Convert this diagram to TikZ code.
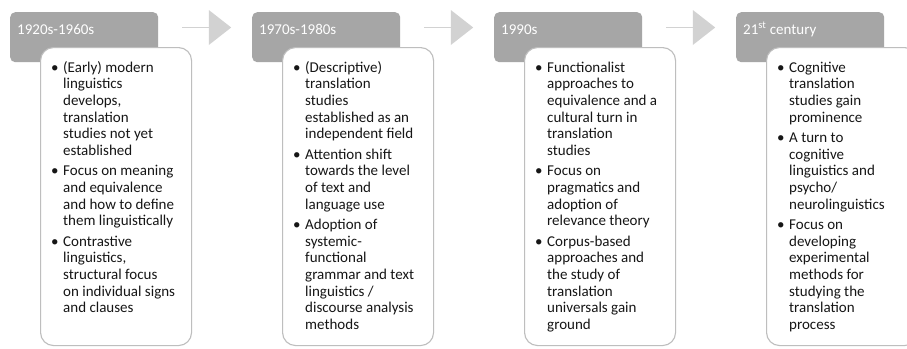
\documentclass[tikz,border=0pt]{standalone}
\usepackage{fontspec}
\setmainfont{Carlito}
\usetikzlibrary{shapes.arrows}

\definecolor{hdrgray}{HTML}{A6A6A6}
\definecolor{arrowgray}{HTML}{D2D2D2}
\definecolor{cardline}{HTML}{BEBEBE}
\definecolor{bodytext}{HTML}{161616}

% hanging bullet at the start of a list entry (the strut fixes the line height)
\newcommand\tlbul{\strut\llap{\textbullet\hspace{4.5pt}}}

\begin{document}
\begin{tikzpicture}[x=1pt,y=-1pt,
  hdr/.style={fill=hdrgray, rounded corners=5pt, anchor=north west,
    minimum width=148pt, minimum height=50pt, inner sep=0},
  hdrtext/.style={anchor=base west, inner sep=0, text=white,
    font=\fontsize{15}{18}\selectfont},
  card/.style={fill=white, draw=cardline, line width=1.1pt,
    rounded corners=13pt, anchor=north west,
    minimum width=151pt, minimum height=298pt, inner sep=0},
  body/.style={anchor=north west, align=left, inner sep=0, text=bodytext,
    font=\fontsize{15}{16.6}\selectfont},
  step arrow/.style={single arrow, fill=arrowgray, draw=none, inner sep=0,
    minimum height=49pt, minimum width=35pt, single arrow head extend=8pt,
    single arrow tip angle=76, anchor=west}
]
\clip (0,0) rectangle (907,348);
\fill[white] (0,0) rectangle (907,348);

% period headers
\node[hdr] (h1) at (10,12) {};
\node[hdr] (h2) at (252,12) {};
\node[hdr] (h3) at (494,12) {};
\node[hdr] (h4) at (736,12) {};

\node[hdrtext] (l1) at (17,34) {1920s-1960s};
\node[hdrtext] (l2) at (259,34) {1970s-1980s};
\node[hdrtext] (l3) at (501,34) {1990s};
\node[hdrtext] (l4) at (743,34) {21\textsuperscript{st} century};

% arrows between the periods
\node[step arrow] (a1) at (182,27.5) {};
\node[step arrow] (a2) at (424,27.5) {};
\node[step arrow] (a3) at (666,27.5) {};

% content cards
\node[card] (c1) at (40,47) {};
\node[card] (c2) at (282,47) {};
\node[card] (c3) at (524,47) {};
\node[card] (c4) at (766,47) {};

% bullet lists, first baseline at y = 72
\node[body] (t1) at (63,60.4) {%
\tlbul (Early) modern\\ linguistics\\ develops,\\ translation\\ studies not yet\\ established\\[4pt]
\tlbul Focus on meaning\\ and equivalence\\ and how to define\\ them linguistically\\[4pt]
\tlbul Contrastive\\ linguistics,\\ structural focus\\ on individual signs\\ and clauses};

\node[body] (t2) at (305,60.4) {%
\tlbul (Descriptive)\\ translation\\ studies\\ established as an\\ independent field\\[4pt]
\tlbul Attention shift\\ towards the level\\ of text and\\ language use\\[4pt]
\tlbul Adoption of\\ systemic-\\ functional\\ grammar and text\\ linguistics /\\ discourse analysis\\ methods};

\node[body] (t3) at (547,60.4) {%
\tlbul Functionalist\\ approaches to\\ equivalence and a\\ cultural turn in\\ translation\\ studies\\[4pt]
\tlbul Focus on\\ pragmatics and\\ adoption of\\ relevance theory\\[4pt]
\tlbul Corpus-based\\ approaches and\\ the study of\\ translation\\ universals gain\\ ground};

\node[body] (t4) at (789,60.4) {%
\tlbul Cognitive\\ translation\\ studies gain\\ prominence\\[4pt]
\tlbul A turn to\\ cognitive\\ linguistics and\\ psycho/\\ neurolinguistics\\[4pt]
\tlbul Focus on\\ developing\\ experimental\\ methods for\\ studying the\\ translation\\ process};
\end{tikzpicture}
\end{document}
